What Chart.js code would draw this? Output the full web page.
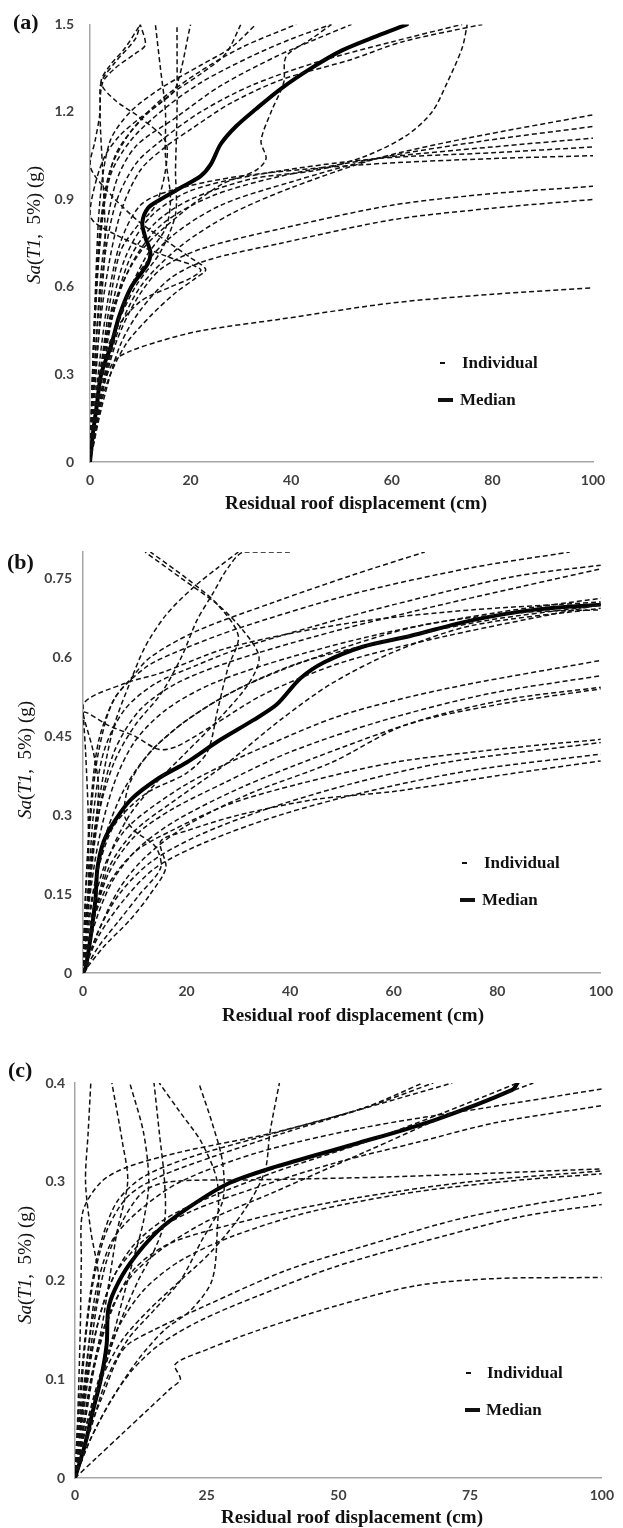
<!DOCTYPE html>
<html><head><meta charset="utf-8">
<script src="https://cdn.jsdelivr.net/npm/chart.js@4.4.1/dist/chart.umd.min.js"></script>
<style>
html,body{margin:0;padding:0;background:#fff;}
#page{position:relative;width:623px;height:1528px;overflow:hidden;background:#fff;}
canvas{position:absolute;left:0;}
.plab{position:absolute;font-family:"Liberation Serif","Times New Roman",serif;font-weight:bold;font-size:22px;color:#111;white-space:nowrap;transform:translateY(-50%);}
.ytitle{position:absolute;font-family:"Liberation Serif","Times New Roman",serif;font-size:19px;color:#111;white-space:nowrap;transform:translate(-50%,-50%) rotate(-90deg);}
.xtitle{position:absolute;font-family:"Liberation Serif","Times New Roman",serif;font-weight:bold;font-size:19px;color:#111;white-space:nowrap;transform:translate(-50%,-50%);}
.leg{position:absolute;font-family:"Liberation Serif","Times New Roman",serif;font-weight:bold;font-size:17px;color:#111;white-space:nowrap;transform:translateY(-50%);}
.sw{position:absolute;background:#111;}
</style></head>
<body>
<div id="page">
  <canvas id="ca" width="623" height="520" style="top:0px"></canvas>
  <canvas id="cb" width="623" height="500" style="top:530px"></canvas>
  <canvas id="cc" width="623" height="488" style="top:1040px"></canvas>

  <div class="plab" style="left:13px;top:22px">(a)</div>
  <div class="plab" style="left:7px;top:562px">(b)</div>
  <div class="plab" style="left:8px;top:1070px">(c)</div>

  <div class="ytitle" style="left:34px;top:225px"><i>Sa</i>(<i>T1</i>,&nbsp; 5%) (g)</div>
  <div class="ytitle" style="left:25px;top:760px"><i>Sa</i>(<i>T1</i>,&nbsp; 5%) (g)</div>
  <div class="ytitle" style="left:25px;top:1265px"><i>Sa</i>(<i>T1</i>,&nbsp; 5%) (g)</div>

  <div class="xtitle" style="left:356px;top:503px">Residual roof displacement (cm)</div>
  <div class="xtitle" style="left:353px;top:1015px">Residual roof displacement (cm)</div>
  <div class="xtitle" style="left:352px;top:1517px">Residual roof displacement (cm)</div>

  <div class="sw" style="left:440px;top:362px;width:5px;height:1.5px"></div>
  <div class="leg" style="left:462px;top:363px">Individual</div>
  <div class="sw" style="left:438px;top:398px;width:15px;height:4px"></div>
  <div class="leg" style="left:460px;top:400px">Median</div>

  <div class="sw" style="left:462px;top:862px;width:5px;height:1.5px"></div>
  <div class="leg" style="left:484px;top:863px">Individual</div>
  <div class="sw" style="left:460px;top:898px;width:15px;height:4px"></div>
  <div class="leg" style="left:482px;top:900px">Median</div>

  <div class="sw" style="left:466px;top:1372px;width:5px;height:1.5px"></div>
  <div class="leg" style="left:487px;top:1373px">Individual</div>
  <div class="sw" style="left:465px;top:1408px;width:15px;height:4px"></div>
  <div class="leg" style="left:486px;top:1410px">Median</div>
</div>
<script>
// ---------- tick labels ----------
const aXTicks = [0, 20, 40, 60, 80, 100];
const aYTicks = [0, 0.3, 0.6, 0.9, 1.2, 1.5];
const bXTicks = [0, 20, 40, 60, 80, 100];
const bYTicks = [0, 0.15, 0.3, 0.45, 0.6, 0.75];
const cXTicks = [0, 25, 50, 75, 100];
const cYTicks = [0, 0.1, 0.2, 0.3, 0.4];

// ---------- panel (a) : [displacement cm, Sa g] ----------
const aMedian = [[0,0],[0.6,0.1],[1.4,0.2],[2.2,0.3],[4.2,0.4],[5.8,0.5],[8.2,0.6],[11.5,0.68],[12,0.72],[11,0.77],[10.4,0.82],[11.5,0.87],[14,0.9],[18,0.94],[22,0.98],[24,1.02],[26,1.09],[29,1.15],[33,1.21],[38,1.28],[44,1.35],[50,1.41],[57,1.46],[63,1.5]];
const a01 = [[0,0],[2,0.2],[5,0.42],[10,0.6],[18,0.74],[28,0.85],[40,0.94],[57,1.04],[75,1.11],[100,1.19]];
const a02 = [[0,0],[2,0.22],[5,0.45],[9,0.63],[16,0.77],[26,0.88],[40,0.96],[57,1.04],[78,1.1],[100,1.15]];
const a03 = [[0,0],[1.5,0.22],[4,0.47],[8,0.67],[14,0.81],[24,0.91],[38,0.98],[57,1.04],[80,1.08],[100,1.11]];
const a04 = [[0,0],[1.5,0.25],[4,0.5],[7,0.7],[12,0.84],[20,0.93],[35,0.99],[57,1.04],[80,1.06],[100,1.08]];
const a05 = [[0,0],[1.5,0.28],[3.5,0.55],[6,0.75],[10,0.88],[16,0.93],[30,0.98],[55,1.02],[80,1.04],[100,1.05]];
const a06 = [[0,0],[2,0.2],[5,0.4],[9,0.55],[14,0.66],[22,0.73],[38,0.8],[60,0.88],[80,0.92],[100,0.945]];
const a07 = [[0,0],[2.5,0.2],[6,0.4],[10,0.52],[16,0.63],[23,0.69],[38,0.75],[60,0.83],[80,0.87],[100,0.9]];
const a08 = [[0,0],[1.5,0.15],[3,0.28],[5,0.35],[8,0.38],[14,0.415],[22,0.45],[38,0.49],[60,0.545],[80,0.575],[100,0.597]];
const a09 = [[0,0],[2,0.25],[4.5,0.5],[8,0.7],[13,0.82],[20,0.9],[32,0.97],[45,1.0],[55,1.05],[63,1.12],[68,1.2],[71,1.3],[74,1.42],[75,1.5]];
const a10 = [[0,0],[1,0.3],[3,0.6],[6,0.85],[10,1.0],[15,1.08],[20,1.14],[28,1.23],[38,1.31],[52,1.38],[62,1.44],[78,1.5]];
const a11 = [[0,0],[1,0.35],[2.5,0.65],[5,0.88],[9,1.02],[14,1.1],[22,1.2],[32,1.29],[45,1.37],[60,1.44],[74,1.5]];
const a12 = [[0,0],[1,0.35],[2.5,0.7],[5,0.95],[9,1.08],[17,1.18],[26,1.29],[37,1.39],[45,1.45],[52,1.5]];
const a13 = [[0,0],[0.8,0.4],[2,0.75],[4,0.98],[8,1.1],[14,1.2],[22,1.3],[32,1.39],[40,1.45],[48,1.5]];
const a14 = [[0,0],[0.8,0.45],[2,0.8],[4,1.0],[8,1.13],[14,1.24],[22,1.34],[30,1.42],[41,1.5]];
const a15 = [[0,0],[1,0.5],[2.5,0.85],[5,1.05],[10,1.17],[16,1.26],[22,1.33],[27,1.4],[30,1.5]];
const a16 = [[0,0],[1,0.55],[2,0.9],[4,1.1],[8,1.2],[14,1.28],[22,1.36],[28,1.42],[33,1.5]];
const a17 = [[0,0],[2,0.3],[5,0.55],[10,0.72],[18,0.85],[26,0.95],[33,1.0],[35,1.04],[34,1.1],[36,1.2],[38.5,1.3],[39,1.39],[44,1.45],[48,1.5]];
const a18 = [[0,0],[1,0.25],[2,0.5],[3,0.75],[2.5,1.0],[2,1.2],[2.5,1.3],[5,1.35],[9,1.4],[11,1.43],[10,1.5]];
const a19 = [[0,0],[2,0.3],[4,0.55],[6,0.72],[9,0.8],[13,0.88],[15,1.0],[15,1.1],[10,1.18],[5,1.24],[2.2,1.3],[4,1.36],[7,1.42],[10,1.5]];
const a20 = [[0,0],[3,0.3],[7,0.55],[11,0.7],[15,0.8],[16,0.9],[15,1.05],[15,1.2],[14,1.35],[13,1.5]];
const a21 = [[0,0],[2,0.25],[5,0.45],[9,0.6],[14,0.72],[17,0.85],[17,1.0],[17.3,1.2],[17.3,1.5]];
const a22 = [[0,0],[3,0.25],[7,0.4],[12,0.5],[17,0.58],[21,0.63],[23,0.66],[20,0.7],[15,0.76],[10,0.82],[5,0.9],[1,0.98],[0,1.02],[1,1.1],[2,1.2],[2.2,1.3],[5,1.37],[9,1.45],[10,1.5]];
const a23 = [[0,0],[2,0.3],[5,0.45],[10,0.55],[16,0.6],[20,0.63],[22,0.66],[16,0.7],[10,0.74],[5,0.78],[1,0.82],[0,0.85],[1,0.95],[3,1.05],[6,1.12],[10,1.18],[14,1.23],[17,1.28],[20,1.5]];
const aIndividual = [a01,a02,a03,a04,a05,a06,a07,a08,a09,a10,a11,a12,a13,a14,a15,a16,a17,a18,a19,a20,a21,a22,a23];

// ---------- panel (b) ----------
const bMedian = [[0,0],[0.5,0.01],[1.5,0.07],[2.4,0.14],[2.8,0.2],[4,0.25],[6.2,0.29],[9.3,0.33],[14.6,0.37],[20,0.4],[26,0.44],[32.8,0.48],[37.4,0.51],[42,0.56],[46.5,0.59],[54,0.62],[63,0.64],[75,0.67],[87,0.69],[100,0.7]];
const b01 = [[0,0],[0.5,0.15],[1.5,0.3],[3,0.42],[6,0.52],[12,0.58],[18,0.61],[30,0.655],[52,0.72],[75,0.77],[94,0.8]];
const b02 = [[0,0],[0.5,0.15],[1.5,0.32],[3,0.44],[6,0.52],[9.3,0.56],[13,0.6],[22,0.65],[37,0.705],[52,0.756],[66,0.8]];
const b03 = [[0,0],[1,0.15],[2,0.3],[4,0.42],[8,0.5],[14,0.55],[22,0.585],[30,0.616],[45,0.66],[60,0.7],[83,0.753],[100,0.775]];
const b04 = [[0,0],[1,0.13],[3,0.3],[6,0.42],[11,0.5],[18,0.55],[28,0.59],[45,0.64],[65,0.69],[85,0.735],[100,0.768]];
const b05 = [[0,0],[1,0.12],[3,0.25],[6,0.36],[10,0.44],[16,0.5],[25,0.55],[40,0.6],[60,0.65],[80,0.685],[100,0.712]];
const b06 = [[0,0],[1,0.15],[1,0.3],[0.5,0.42],[0,0.51],[8,0.55],[15,0.57],[27,0.615],[40,0.645],[55,0.67],[75,0.69],[100,0.705]];
const b07 = [[0,0],[1.5,0.12],[4,0.25],[8,0.35],[13,0.42],[20,0.48],[30,0.54],[42,0.59],[58,0.63],[78,0.67],[100,0.699]];
const b08 = [[0,0],[2,0.1],[5,0.2],[10,0.27],[18,0.33],[28,0.4],[38,0.48],[48,0.55],[60,0.61],[75,0.66],[100,0.693]];
const b09 = [[0,0],[1.5,0.1],[4,0.2],[8,0.27],[14,0.32],[22,0.37],[35,0.43],[50,0.49],[70,0.54],[100,0.594]];
const b10 = [[0,0],[2,0.1],[5,0.19],[10,0.26],[17,0.31],[27,0.36],[40,0.42],[58,0.48],[78,0.53],[100,0.565]];
const b11 = [[0,0],[2.5,0.1],[6,0.18],[11,0.24],[18,0.29],[30,0.35],[45,0.41],[65,0.48],[82,0.52],[100,0.543]];
const b12 = [[0,0],[3,0.08],[7,0.16],[12,0.22],[20,0.28],[32,0.34],[48,0.4],[62,0.47],[80,0.51],[100,0.54]];
const b13 = [[0,0],[2,0.1],[5,0.17],[10,0.23],[17,0.27],[28,0.32],[42,0.36],[60,0.4],[80,0.425],[100,0.444]];
const b14 = [[0,0],[3,0.08],[7,0.15],[13,0.21],[22,0.26],[35,0.31],[52,0.36],[70,0.4],[100,0.438]];
const b15 = [[0,0],[3,0.07],[8,0.14],[14,0.2],[24,0.25],[38,0.3],[55,0.345],[75,0.385],[100,0.416]];
const b16 = [[0,0],[4,0.05],[9,0.1],[13,0.15],[16,0.2],[15,0.25],[20,0.27],[30,0.3],[45,0.33],[60,0.345],[80,0.375],[100,0.403]];
const b17 = [[0,0],[1,0.15],[3,0.3],[6,0.4],[10,0.47],[15,0.53],[19,0.6],[22,0.67],[25,0.72],[28,0.77],[31,0.8],[40,0.8]];
const b18 = [[0,0],[0.5,0.1],[2,0.25],[4,0.38],[6,0.47],[9,0.55],[12,0.62],[16,0.68],[21,0.73],[26,0.77],[30,0.8]];
const b19 = [[0,0],[2,0.1],[5,0.22],[9,0.3],[14,0.36],[20,0.42],[26,0.48],[32,0.55],[34,0.6],[31,0.65],[26,0.7],[19,0.75],[12,0.8]];
const b20 = [[0,0],[1,0.1],[3,0.2],[6,0.28],[12,0.34],[20,0.38],[24,0.42],[26,0.5],[28,0.58],[30,0.64],[26,0.7],[20,0.75],[13,0.8]];
const b21 = [[0,0],[1,0.12],[2,0.25],[3,0.35],[2,0.42],[0,0.495],[5,0.47],[10,0.45],[14.6,0.425],[18,0.43],[25,0.47],[35,0.53],[50,0.59],[70,0.64],[100,0.7]];
const b22 = [[0,0],[3,0.05],[7,0.1],[11,0.15],[15,0.2],[14,0.24],[10,0.27],[8,0.3],[9,0.36],[13,0.42],[20,0.48],[30,0.54],[45,0.6],[65,0.66],[85,0.685],[100,0.69]];
const bIndividual = [b01,b02,b03,b04,b05,b06,b07,b08,b09,b10,b11,b12,b13,b14,b15,b16,b17,b18,b19,b20,b21,b22];

// ---------- panel (c) ----------
const cMedian = [[0,0],[1.9,0.034],[3.4,0.068],[4.9,0.1],[6,0.135],[6.3,0.17],[7.5,0.19],[10.4,0.217],[15.7,0.25],[21.6,0.274],[29,0.298],[38,0.315],[53,0.338],[68,0.362],[83,0.393],[84,0.4]];
const c01 = [[0,0],[1,0.06],[2.5,0.13],[4,0.19],[7,0.24],[12,0.27],[20,0.3],[35,0.33],[55,0.355],[78,0.375],[100,0.394]];
const c02 = [[0,0],[1.5,0.06],[3,0.12],[5,0.17],[8,0.21],[14,0.245],[22,0.27],[35,0.295],[50,0.32],[65,0.34],[80,0.36],[100,0.377]];
const c03 = [[0,0],[1,0.05],[2.5,0.11],[4,0.17],[6,0.22],[9,0.26],[13,0.29],[18,0.3],[35,0.302],[60,0.305],[100,0.313]];
const c04 = [[0,0],[2,0.06],[4,0.12],[7,0.17],[11,0.21],[17,0.235],[25,0.25],[40,0.27],[55,0.285],[75,0.3],[100,0.311]];
const c05 = [[0,0],[2,0.05],[5,0.1],[8,0.15],[13,0.19],[20,0.22],[30,0.245],[45,0.27],[65,0.29],[85,0.302],[100,0.308]];
const c06 = [[0,0],[2,0.04],[5,0.08],[8,0.12],[10,0.135],[15,0.15],[25,0.175],[40,0.21],[55,0.235],[75,0.265],[100,0.289]];
const c07 = [[0,0],[3,0.04],[7,0.08],[11,0.11],[16,0.135],[24,0.16],[35,0.185],[50,0.215],[70,0.245],[85,0.265],[100,0.277]];
const c08 = [[0,0],[4,0.02],[9,0.045],[14,0.07],[18,0.09],[20,0.1],[19,0.115],[25,0.13],[35,0.15],[50,0.175],[65,0.195],[80,0.202],[100,0.203]];
const c09 = [[0,0],[1,0.05],[2.5,0.11],[4.5,0.16],[7,0.2],[11,0.235],[17,0.262],[25,0.283],[38,0.31],[55,0.34],[70,0.37],[84,0.4]];
const c10 = [[0,0],[1.5,0.05],[3.5,0.11],[6,0.16],[10,0.2],[16,0.23],[25,0.26],[38,0.29],[55,0.33],[72,0.37],[87,0.4]];
const c11 = [[0,0],[0.5,0.05],[1.5,0.12],[3,0.19],[5,0.24],[8,0.28],[13,0.305],[22,0.325],[35,0.345],[52,0.37],[71.6,0.4]];
const c12 = [[0,0],[0.5,0.06],[1,0.15],[1.2,0.22],[1.5,0.27],[5,0.3],[10,0.315],[20,0.33],[38,0.35],[55,0.375],[68,0.4]];
const c13 = [[0,0],[1,0.07],[2,0.14],[3.5,0.2],[6,0.25],[10,0.285],[16,0.305],[26,0.325],[40,0.35],[55,0.375],[66,0.4]];
const c14 = [[0,0],[1,0.05],[2,0.1],[3,0.15],[4.5,0.2],[3,0.25],[2,0.3],[2.5,0.35],[3,0.4]];
const c15 = [[0,0],[1.5,0.05],[3,0.1],[5,0.15],[6.5,0.2],[8,0.25],[10,0.3],[9,0.34],[7,0.4]];
const c16 = [[0,0],[2,0.05],[4.5,0.1],[7,0.14],[9,0.18],[11,0.22],[13,0.26],[14,0.3],[13,0.35],[10.4,0.4]];
const c17 = [[0,0],[2.5,0.05],[5,0.1],[8,0.15],[12,0.2],[15,0.23],[17,0.26],[17,0.3],[16,0.35],[15,0.4]];
const c18 = [[0,0],[3,0.04],[7,0.08],[12,0.12],[17,0.15],[22,0.17],[26,0.2],[27,0.25],[27,0.3],[24,0.34],[20,0.37],[16,0.4]];
const c19 = [[0,0],[3,0.05],[6,0.1],[10,0.14],[15,0.17],[20,0.2],[24,0.24],[28,0.28],[28,0.32],[26,0.36],[23.5,0.4]];
const c20 = [[0,0],[2,0.05],[5,0.1],[9,0.14],[14,0.17],[20,0.2],[26,0.23],[32,0.27],[36,0.31],[37,0.35],[38.8,0.4]];
const cIndividual = [c01,c02,c03,c04,c05,c06,c07,c08,c09,c10,c11,c12,c13,c14,c15,c16,c17,c18,c19,c20];

// ---------- chart construction ----------
const tickFont = {family:'Lato, "Open Sans", sans-serif', size:14, weight:'bold'};
const tickColor = '#404040';
const axisColor = '#a6a6a6';

function toPts(arr){ return arr.map(p => ({x:p[0], y:p[1]})); }
function fmt(v){ return String(+(+v).toFixed(2)); }

function makeChart(cfg){
  const datasets = cfg.ind.map(c => ({
    data: toPts(c), showLine:true, borderColor:'#111', borderWidth:1.5,
    borderDash:[5,3], pointRadius:0, tension:0.3, fill:false
  }));
  datasets.push({data: toPts(cfg.med), showLine:true, borderColor:'#000', borderWidth:4,
    pointRadius:0, tension:0.3, fill:false, borderCapStyle:'round'});
  new Chart(document.getElementById(cfg.id), {
    type:'scatter',
    data:{datasets},
    options:{
      responsive:false, animation:false, devicePixelRatio:1,
      layout:{padding:{left:0, top:cfg.padTop, right:cfg.padRight, bottom:0}},
      plugins:{legend:{display:false}, tooltip:{enabled:false}},
      scales:{
        x:{type:'linear', min:0, max:cfg.xMax,
           grid:{display:false, drawTicks:false},
           border:{display:true, color:axisColor, width:1.5},
           ticks:{font:tickFont, color:tickColor, padding:cfg.xPad, maxRotation:0, callback:fmt},
           afterBuildTicks:s => { s.ticks = cfg.xTicks.map(v => ({value:v})); },
           afterFit:s => { s.height = cfg.xH; }},
        y:{type:'linear', min:0, max:cfg.yMax,
           grid:{display:false, drawTicks:false},
           border:{display:true, color:axisColor, width:1.5},
           ticks:{font:tickFont, color:tickColor, padding:cfg.yPad, callback:fmt},
           afterBuildTicks:s => { s.ticks = cfg.yTicks.map(v => ({value:v})); },
           afterFit:s => { s.width = cfg.yW; }}
      }
    }
  });
}

makeChart({id:'ca', padTop:20, padRight:30, yW:90, xH:58, xMax:100, yMax:1.5, xTicks:aXTicks, yTicks:aYTicks, ind:aIndividual, med:aMedian, xPad:10, yPad:16});
makeChart({id:'cb', padTop:22, padRight:16, yW:83, xH:57, xMax:100, yMax:0.8, xTicks:bXTicks, yTicks:bYTicks, ind:bIndividual, med:bMedian, xPad:10, yPad:11});
makeChart({id:'cc', padTop:43, padRight:13, yW:75, xH:50, xMax:100, yMax:0.4, xTicks:cXTicks, yTicks:cYTicks, ind:cIndividual, med:cMedian, xPad:9, yPad:10});
</script>
</body></html>
